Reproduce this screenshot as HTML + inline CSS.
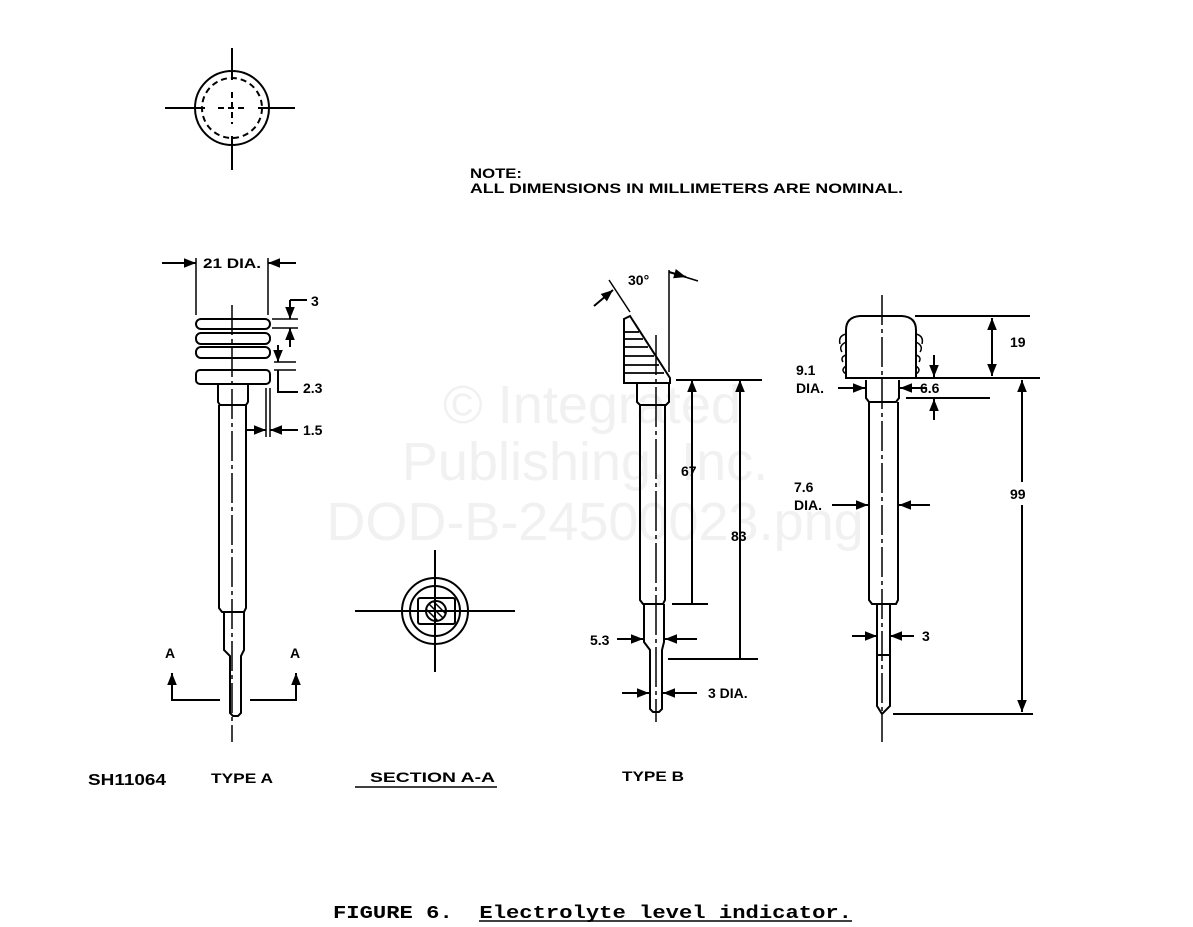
<!DOCTYPE html>
<html><head><meta charset="utf-8"><style>
html,body{margin:0;padding:0;background:#fff;}
svg{display:block;}
text{font-family:"Liberation Sans",Arial,sans-serif;font-weight:bold;fill:#000;}
.m{font-family:"Liberation Mono",monospace;font-weight:bold;}
.wm{fill:#f1f1f1;font-weight:normal;font-size:54px;}
</style></head><body>
<svg width="1193" height="927" viewBox="0 0 1193 927" xmlns="http://www.w3.org/2000/svg">
<defs>
<marker id="ar" viewBox="0 0 10 10" refX="10" refY="5" markerWidth="8" markerHeight="6" orient="auto-start-reverse"><path d="M0,1 L10,5 L0,9 z" fill="#000"/></marker>
</defs>
<g class="wm" text-anchor="middle">
<text class="wm" x="592" y="423">© Integrated</text>
<text class="wm" x="585" y="480">Publishing, Inc.</text>
<text class="wm" x="595" y="540">DOD-B-24500023.png</text>
</g>
<g stroke="#000" fill="none" stroke-width="2">
<circle cx="232" cy="108" r="37"/>
<circle cx="232" cy="108" r="30" stroke-dasharray="6,4"/>
<line x1="165" y1="108" x2="205" y2="108"/><line x1="218" y1="108" x2="246" y2="108" stroke-dasharray="6,4"/><line x1="258" y1="108" x2="295" y2="108"/>
<line x1="232" y1="48" x2="232" y2="80"/><line x1="232" y1="92" x2="232" y2="124" stroke-dasharray="6,4"/><line x1="232" y1="136" x2="232" y2="170"/>

<rect x="196" y="319" width="74" height="10" rx="5"/>
<rect x="196" y="333" width="74" height="11" rx="5"/>
<rect x="196" y="347" width="74" height="11" rx="5"/>
<rect x="196" y="370" width="74" height="14" rx="4"/>
<path d="M218,384 V402 L220,405 H246 L248,402 V384"/>
<path d="M219,405 V608 L222,612 H244 L246,608 V405"/>
<path d="M224,612 V650 L230,656 V713 L233,716 H238 L241,713 V656 L244,650 V612"/>
<line x1="232" y1="305" x2="232" y2="742" stroke-width="1.5" stroke-dasharray="30,4,4,4"/>
<line x1="196" y1="258" x2="196" y2="315" stroke-width="1.5"/>
<line x1="268" y1="258" x2="268" y2="315" stroke-width="1.5"/>
<line x1="162" y1="263" x2="196" y2="263" marker-end="url(#ar)"/>
<line x1="296" y1="263" x2="268" y2="263" marker-end="url(#ar)"/>
<line x1="272" y1="319" x2="298" y2="319" stroke-width="1.5"/>
<line x1="272" y1="328" x2="298" y2="328" stroke-width="1.5"/>
<line x1="290" y1="300" x2="290" y2="319" marker-end="url(#ar)"/>
<polyline points="290,300 307,300"/>
<line x1="290" y1="347" x2="290" y2="328" marker-end="url(#ar)"/>
<line x1="274" y1="362" x2="296" y2="362" stroke-width="1.5"/>
<line x1="274" y1="370" x2="296" y2="370" stroke-width="1.5"/>
<line x1="278" y1="345" x2="278" y2="362" marker-end="url(#ar)"/>
<polyline points="278,370 278,392 298,392"/>
<line x1="266" y1="388" x2="266" y2="437" stroke-width="1.5"/>
<line x1="270" y1="388" x2="270" y2="437" stroke-width="1.5"/>
<line x1="246" y1="430" x2="266" y2="430" marker-end="url(#ar)"/>
<line x1="298" y1="430" x2="270" y2="430" marker-end="url(#ar)"/>
<polyline points="172,682 172,700 220,700"/>
<line x1="172" y1="700" x2="172" y2="673" marker-end="url(#ar)"/>
<polyline points="250,700 296,700 296,682"/>
<line x1="296" y1="700" x2="296" y2="673" marker-end="url(#ar)"/>

<circle cx="435" cy="611" r="33"/>
<circle cx="435" cy="611" r="25"/>
<rect x="418" y="598" width="37" height="26" rx="2"/>
<circle cx="436" cy="611" r="10"/>
<line x1="355" y1="611" x2="515" y2="611"/>
<line x1="435" y1="550" x2="435" y2="672"/>
<g stroke-width="1.5"><line x1="429" y1="604" x2="443" y2="618"/><line x1="426" y1="609" x2="438" y2="621"/><line x1="433" y1="601" x2="446" y2="614"/></g>

<path d="M624,319 L630,316 L670,378 V383 H624 Z"/>
<g stroke-width="1.8"><line x1="624" y1="332" x2="639" y2="332"/><line x1="624" y1="339" x2="643" y2="339"/><line x1="624" y1="347" x2="648" y2="347"/><line x1="624" y1="356" x2="654" y2="356"/><line x1="624" y1="365" x2="659" y2="365"/><line x1="624" y1="373" x2="664" y2="373"/></g>
<path d="M637,384 V402 L640,405 H666 L669,402 V384"/>
<path d="M640,405 V600 L643,604 H663 L665,600 V405"/>
<path d="M644,604 V642 L650,650 V709 L653,712 H659 L662,709 V650 L664,642 V604"/>
<line x1="656" y1="335" x2="656" y2="722" stroke-width="1.5" stroke-dasharray="40,4,4,4"/>
<line x1="669" y1="270" x2="669" y2="372" stroke-width="1.5"/>
<line x1="669" y1="272" x2="698" y2="281" stroke-width="1.5"/>
<line x1="669" y1="272" x2="686" y2="277" marker-end="url(#ar)"/>
<line x1="609" y1="280" x2="630" y2="312" stroke-width="1.5"/>
<line x1="594" y1="306" x2="613" y2="290" marker-end="url(#ar)"/>
<line x1="676" y1="380" x2="762" y2="380"/>
<line x1="692" y1="604" x2="692" y2="380" marker-end="url(#ar)"/>
<line x1="672" y1="604" x2="708" y2="604"/>
<line x1="740" y1="659" x2="740" y2="380" marker-end="url(#ar)"/>
<line x1="668" y1="659" x2="758" y2="659"/>
<line x1="617" y1="639" x2="643" y2="639" marker-end="url(#ar)"/>
<line x1="697" y1="639" x2="665" y2="639" marker-end="url(#ar)"/>
<line x1="622" y1="693" x2="649" y2="693" marker-end="url(#ar)"/>
<line x1="697" y1="693" x2="663" y2="693" marker-end="url(#ar)"/>

<path d="M846,378 V330 Q846,317 860,316 H902 Q916,317 916,330 V378 Z"/>
<g stroke-width="1.5">
<path d="M846,334 Q838,336 840,344 M846,342 Q838,346 842,352 M846,355 Q840,357 843,362 M846,366 Q840,370 846,374"/>
<path d="M916,334 Q924,336 922,344 M916,342 Q924,346 920,352 M916,355 Q922,357 919,362 M916,366 Q922,370 916,374"/>
</g>
<path d="M866,380 V398 L869,402 H896 L899,398 V380"/>
<path d="M869,402 V600 L872,604 H896 L898,600 V402"/>
<path d="M877,604 V706 L882,714 L890,706 V604"/>
<line x1="877" y1="655" x2="890" y2="655"/>
<line x1="882" y1="295" x2="882" y2="742" stroke-width="1.5" stroke-dasharray="30,4,4,4"/>
<line x1="915" y1="316" x2="1030" y2="316"/>
<line x1="902" y1="378" x2="1040" y2="378"/>
<line x1="992" y1="350" x2="992" y2="318" marker-end="url(#ar)"/>
<line x1="992" y1="350" x2="992" y2="376" marker-end="url(#ar)"/>
<line x1="838" y1="388" x2="865" y2="388" marker-end="url(#ar)"/>
<line x1="927" y1="388" x2="900" y2="388" marker-end="url(#ar)"/>
<line x1="906" y1="398" x2="990" y2="398"/>
<line x1="934" y1="355" x2="934" y2="377" marker-end="url(#ar)"/>
<line x1="934" y1="420" x2="934" y2="399" marker-end="url(#ar)"/>
<line x1="1022" y1="482" x2="1022" y2="380" marker-end="url(#ar)"/>
<line x1="1022" y1="505" x2="1022" y2="712" marker-end="url(#ar)"/>
<line x1="893" y1="714" x2="1033" y2="714"/>
<line x1="832" y1="505" x2="868" y2="505" marker-end="url(#ar)"/>
<line x1="930" y1="505" x2="899" y2="505" marker-end="url(#ar)"/>
<line x1="852" y1="636" x2="877" y2="636" marker-end="url(#ar)"/>
<line x1="914" y1="636" x2="890" y2="636" marker-end="url(#ar)"/>

<line x1="355" y1="787" x2="497" y2="787" stroke-width="1.5"/>
<line x1="479" y1="921" x2="852" y2="921" stroke-width="1.5"/>
</g>
<g font-size="14">
<text x="470" y="178" textLength="52" lengthAdjust="spacingAndGlyphs">NOTE:</text>
<text x="470" y="193" font-size="13.5" textLength="433" lengthAdjust="spacingAndGlyphs">ALL DIMENSIONS IN MILLIMETERS ARE NOMINAL.</text>
<text x="203" y="268" textLength="58" lengthAdjust="spacingAndGlyphs">21 DIA.</text>
<text x="311" y="306">3</text>
<text x="303" y="393">2.3</text>
<text x="303" y="435">1.5</text>
<text x="165" y="658">A</text>
<text x="290" y="658">A</text>
<text x="628" y="285">30°</text>
<text x="681" y="476">67</text>
<text x="731" y="541">83</text>
<text x="590" y="645">5.3</text>
<text x="708" y="698">3 DIA.</text>
<text x="796" y="375">9.1</text>
<text x="796" y="393">DIA.</text>
<text x="920" y="393">6.6</text>
<text x="1010" y="347">19</text>
<text x="1010" y="499">99</text>
<text x="794" y="492">7.6</text>
<text x="794" y="510">DIA.</text>
<text x="922" y="641">3</text>
<text x="211" y="783" textLength="62" lengthAdjust="spacingAndGlyphs">TYPE A</text>
<text x="370" y="782" textLength="125" lengthAdjust="spacingAndGlyphs">SECTION A-A</text>
<text x="622" y="781" textLength="62" lengthAdjust="spacingAndGlyphs">TYPE B</text>
<text x="88" y="785" font-family="Liberation Serif,serif" font-weight="normal" font-size="16" textLength="78" lengthAdjust="spacingAndGlyphs">SH11064</text>
</g>
<text class="m" x="333" y="918" font-size="18.8" xml:space="preserve" textLength="519" lengthAdjust="spacingAndGlyphs">FIGURE 6.  Electrolyte level indicator.</text>
</svg>
</body></html>
